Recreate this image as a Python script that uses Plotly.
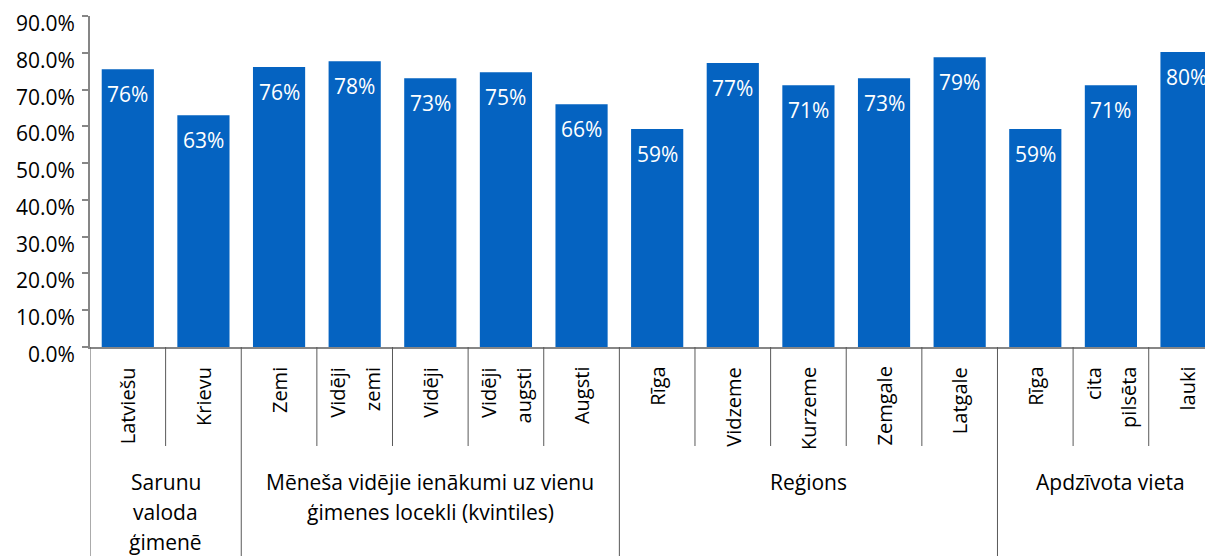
import plotly.graph_objects as go

categories = ["Latviešu", "Krievu", "Zemi", "Vidēji<br>zemi", "Vidēji", "Vidēji<br>augsti", "Augsti",
              "Rīga", "Vidzeme", "Kurzeme", "Zemgale", "Latgale",
              "Rīga", "cita<br>pilsēta", "lauki"]
values = [0.755, 0.630, 0.761, 0.777, 0.731, 0.747, 0.660,
          0.593, 0.772, 0.712, 0.731, 0.788,
          0.593, 0.712, 0.802]
group_names = [["Sarunu", "valoda", "ģimenē"],
               ["Mēneša vidējie ienākumi uz vienu", "ģimenes locekli (kvintiles)"],
               ["Reģions"],
               ["Apdzīvota vieta"]]
group_sizes = [2, 5, 5, 3]
y_ticks = [0.0, 0.1, 0.2, 0.3, 0.4, 0.5, 0.6, 0.7, 0.8, 0.9]

BLUE = "#0563C1"
AXIS = "#868686"
SEP = "#595959"
FONT = "Open Sans"

OFF = 8  # page body margin
W, H = 1213, 556
PLOT_TOP, PLOT_BOTTOM, PLOT_LEFT = 16, 347, 90  # page pixels
ML = PLOT_LEFT - OFF
MT = PLOT_TOP - OFF
MB = H - (PLOT_BOTTOM - OFF)
PLOT_H = PLOT_BOTTOM - PLOT_TOP
LINE_PITCH = 35  # px between the lines of a rotated two-line label


def py(page_px):
    return (PLOT_BOTTOM - page_px) / PLOT_H


xs = list(range(len(categories)))

fig = go.Figure()
fig.add_trace(go.Bar(x=xs, y=values, marker=dict(color=BLUE, line=dict(width=0)),
                     width=0.69, hoverinfo="skip"))

annotations = []
for x, v in zip(xs, values):
    annotations.append(dict(x=x, y=v, xref="x", yref="y", text=f"{round(v * 100):.0f}%",
                            showarrow=False, yanchor="top", yshift=-9,
                            font=dict(family=FONT, size=21, color="white")))

for t in y_ticks:
    annotations.append(dict(x=0, y=t, xref="paper", yref="y", text=f"{t * 100:.1f}%",
                            showarrow=False, xanchor="right", yanchor="top",
                            xshift=-14, yshift=8, borderpad=0,
                            font=dict(family=FONT, size=21, color="black")))

for x, c in zip(xs, categories):
    parts = c.split("<br>")
    n = len(parts)
    for k, part in enumerate(parts):
        annotations.append(dict(x=x, y=py(365), xref="x", yref="paper", text=part,
                                showarrow=False, textangle=-90, yanchor="top", xanchor="center",
                                xshift=(k - (n - 1) / 2) * LINE_PITCH,
                                font=dict(family=FONT, size=20, color="black")))

shapes = []
start = 0
group_bounds = set()
for size in group_sizes:
    group_bounds.add(start)
    start += size
group_bounds.add(start)
for b in range(len(categories) + 1):
    xb = b - 0.5
    y1 = py(620) if b in group_bounds else py(446)
    shapes.append(dict(type="line", xref="x", yref="paper", x0=xb, x1=xb,
                       y0=0, y1=y1, line=dict(color=SEP, width=1)))

start = 0
for lines, size in zip(group_names, group_sizes):
    cx = start + (size - 1) / 2
    for k, line in enumerate(lines):
        annotations.append(dict(x=cx, y=py(482 + 30 * k), xref="x", yref="paper",
                                text=line, showarrow=False, yanchor="middle",
                                font=dict(family=FONT, size=21, color="black")))
    start += size

fig.update_layout(
    width=W, height=H,
    margin=dict(l=ML, r=OFF, t=MT, b=MB),
    paper_bgcolor="white", plot_bgcolor="white",
    showlegend=False,
    annotations=annotations,
    shapes=shapes,
    xaxis=dict(range=[-0.5, 14.35], tickvals=xs, showticklabels=False,
               showline=True, linecolor=AXIS, linewidth=1.5, ticks="",
               showgrid=False, zeroline=False),
    yaxis=dict(range=[0, 0.9], tickvals=y_ticks, showticklabels=False,
               showline=True, linecolor=AXIS, linewidth=1.5, ticks="outside",
               ticklen=6, tickcolor=AXIS, tickwidth=1.5, showgrid=False, zeroline=False,
               automargin=False),
    font=dict(family=FONT),
)

fig.write_html("out.html")
